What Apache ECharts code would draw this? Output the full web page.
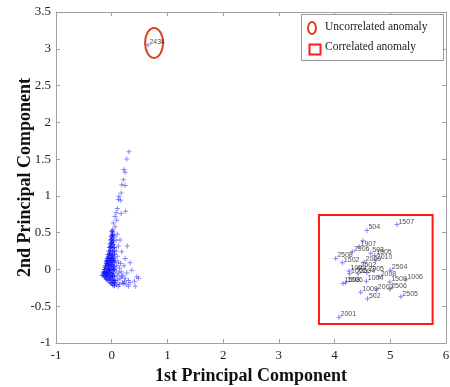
<!DOCTYPE html>
<html>
<head>
<meta charset="utf-8">
<script src="https://cdn.jsdelivr.net/npm/echarts@6/dist/echarts.min.js"></script>
<style>
  html, body { margin: 0; padding: 0; background: #fff; }
  #chart { width: 450px; height: 387px; }
</style>
</head>
<body>
<div id="chart"></div>
<script>
// Axis ranges and tick labels
const xTicks = [-1, 0, 1, 2, 3, 4, 5, 6];
const yTicks = [-1, -0.5, 0, 0.5, 1, 1.5, 2, 2.5, 3, 3.5];

// Bulk of the observations: dense core near the origin
const corePoints = [
  [0.00, 0.52], [0.01, 0.48], [0.02, 0.51],
  [-0.01, 0.45], [0.01, 0.43], [0.02, 0.46],
  [-0.02, 0.40], [0.00, 0.41], [0.03, 0.39], [0.01, 0.37],
  [-0.03, 0.35], [0.00, 0.36], [0.03, 0.34], [-0.02, 0.32],
  [-0.04, 0.30], [-0.01, 0.31], [0.02, 0.29], [0.05, 0.30],
  [-0.05, 0.25], [-0.02, 0.26], [0.01, 0.24], [0.04, 0.25], [-0.03, 0.22],
  [-0.07, 0.20], [-0.04, 0.21], [-0.01, 0.19], [0.02, 0.20], [0.05, 0.21],
  [-0.06, 0.17], [0.00, 0.17],
  [-0.08, 0.15], [-0.05, 0.16], [-0.02, 0.14], [0.01, 0.15], [0.04, 0.16],
  [-0.09, 0.12], [-0.03, 0.12], [0.03, 0.13],
  [-0.10, 0.10], [-0.07, 0.11], [-0.04, 0.09], [-0.01, 0.10], [0.02, 0.11], [0.05, 0.09],
  [-0.09, 0.08], [-0.06, 0.07], [0.00, 0.07],
  [-0.11, 0.05], [-0.08, 0.06], [-0.05, 0.04], [-0.02, 0.05], [0.01, 0.06], [0.04, 0.04],
  [-0.12, 0.03], [-0.06, 0.02], [0.03, 0.02],
  [-0.13, 0.00], [-0.10, 0.01], [-0.07, -0.01], [-0.04, 0.00], [-0.01, 0.01], [0.02, -0.01], [0.05, 0.00],
  [-0.14, -0.03], [-0.09, -0.03], [-0.03, -0.02],
  [-0.15, -0.05], [-0.12, -0.04], [-0.09, -0.06], [-0.06, -0.05], [-0.03, -0.04], [0.00, -0.06], [0.03, -0.05],
  [-0.17, -0.08], [-0.14, -0.08], [-0.11, -0.07], [-0.05, -0.08], [0.01, -0.08],
  [-0.13, -0.10], [-0.10, -0.11], [-0.07, -0.09], [-0.04, -0.10], [-0.01, -0.11], [0.02, -0.09], [0.05, -0.10],
  [-0.10, -0.13], [-0.08, -0.14], [-0.05, -0.15], [-0.02, -0.13], [0.01, -0.14], [0.04, -0.15],
  [-0.03, -0.18], [0.00, -0.19], [0.03, -0.17], [0.06, -0.18],
  [0.02, -0.21], [0.05, -0.22]
];

// Scattered observations: upward tail and right-hand spread
const tailPoints = [
  [0.31, 1.60], [0.27, 1.50], [0.22, 1.36], [0.24, 1.32], [0.21, 1.22],
  [0.18, 1.15], [0.24, 1.14], [0.17, 1.04], [0.13, 0.99], [0.12, 0.95],
  [0.16, 0.94], [0.10, 0.83], [0.25, 0.79], [0.17, 0.76], [0.08, 0.77],
  [0.06, 0.72], [0.09, 0.67], [0.03, 0.63], [0.06, 0.58], [0.02, 0.54],
  [0.28, 0.32], [0.15, 0.40], [0.18, 0.24], [0.24, 0.15], [0.33, 0.09],
  [0.36, -0.01], [0.45, -0.10], [0.48, -0.12], [0.41, -0.16], [0.42, -0.23],
  [0.30, -0.23], [0.21, -0.19], [0.12, -0.23],
  [0.08, 0.25], [0.10, 0.18], [0.12, 0.10], [0.09, 0.05], [0.14, 0.02],
  [0.17, -0.03], [0.20, -0.08], [0.24, -0.12], [0.27, -0.05], [0.22, 0.05],
  [0.30, -0.15], [0.15, -0.12], [0.10, -0.08], [0.07, -0.15], [0.19, -0.18],
  [0.26, -0.20], [0.33, -0.18], [0.12, 0.32], [0.08, 0.40], [0.10, 0.48], [0.05, 0.45],
  [0.08, -0.02], [0.11, -0.14], [0.13, -0.05], [0.16, 0.08], [0.18, -0.10],
  [0.07, 0.12], [0.09, -0.20], [0.23, -0.16], [0.14, -0.20]
];

// Uncorrelated anomaly
const uncorrelated = [[0.65, 3.05, '2434']];
const uncorrelatedRing = [[0.76, 3.08]];

// Correlated anomalies (labelled by record id)
const correlatedIds = ['1507', '504', '', '2906', '1907', '503', '1505', '2009', '2010', '2508',
  '1502', '2502', '2504', '1003', '1002', '2004', '2905', '2008', '1006', '1004',
  '1509', '1508', '1506', '2002', '2506', '1009', '502', '2505', '2001'];
const correlatedX = [5.12, 4.58, 4.51, 4.32, 4.44, 4.65, 4.72, 4.53, 4.73, 4.02,
  4.14, 4.44, 5.00, 4.26, 4.27, 4.42, 4.58, 4.80, 5.28, 4.57,
  4.99, 4.15, 4.20, 4.75, 4.99, 4.47, 4.59, 5.19, 4.08];
const correlatedY = [0.61, 0.53, 0.39, 0.24, 0.31, 0.22, 0.19, 0.10, 0.13, 0.15,
  0.09, 0.02, -0.01, -0.02, -0.06, -0.06, -0.04, -0.10, -0.14, -0.16,
  -0.17, -0.19, -0.18, -0.28, -0.27, -0.31, -0.40, -0.37, -0.65];
const correlatedBox = { x: [3.72, 5.76], y: [-0.74, 0.74] };

const plus = 'path://M2,0H3V2H5V3H3V5H2V3H0V2H2Z';
const serif = '"Liberation Serif", "Times New Roman", serif';
const axisGray = '#a0a0a0';

const correlated = correlatedIds.map((id, i) => [correlatedX[i], correlatedY[i], id]);

const pointLabel = {
  show: true,
  position: 'right',
  distance: 0,
  offset: [-1, -3],
  fontSize: 7,
  fontFamily: '"Liberation Sans", Arial, sans-serif',
  color: '#222',
  formatter: p => p.value[2]
};

const baseX = {
  type: 'value', min: -1, max: 6, interval: 1,
  axisLine: { show: true, onZero: false, lineStyle: { color: axisGray, width: 1 } },
  axisTick: { show: true, inside: true, length: 4, lineStyle: { color: axisGray } },
  splitLine: { show: false }
};
const baseY = {
  type: 'value', min: -1, max: 3.5, interval: 0.5,
  axisLine: { show: true, onZero: false, lineStyle: { color: axisGray, width: 1 } },
  axisTick: { show: true, inside: true, length: 4, lineStyle: { color: axisGray } },
  splitLine: { show: false }
};

const option = {
  animation: false,
  backgroundColor: '#fff',
  grid: { left: 56, right: 4, top: 12, bottom: 44, containLabel: false, outerBoundsMode: 'none' },
  xAxis: [
    Object.assign({}, baseX, {
      position: 'bottom',
      name: '1st Principal Component',
      nameLocation: 'middle',
      nameGap: 24,
      nameMoveOverlap: false,
      nameTextStyle: { fontFamily: serif, fontWeight: 'bold', fontSize: 18, color: '#111' },
      axisLabel: { fontFamily: serif, fontSize: 13, color: '#222', margin: 6,
        formatter: v => xTicks.includes(v) ? String(v) : '' }
    }),
    Object.assign({}, baseX, { position: 'top', axisLabel: { show: false } })
  ],
  yAxis: [
    Object.assign({}, baseY, {
      position: 'left',
      name: '2nd Principal Component',
      nameLocation: 'middle',
      nameGap: 22,
      nameMoveOverlap: false,
      nameTextStyle: { fontFamily: serif, fontWeight: 'bold', fontSize: 18, color: '#111' },
      axisLabel: { fontFamily: serif, fontSize: 13, color: '#222', margin: 5,
        formatter: v => yTicks.includes(v) ? String(v) : '' }
    }),
    Object.assign({}, baseY, { position: 'right', axisLabel: { show: false } })
  ],
  series: [
    {
      type: 'scatter', data: corePoints, symbol: plus, symbolSize: 5,
      itemStyle: { color: 'rgba(0,0,255,0.85)' }, silent: true
    },
    {
      type: 'scatter', data: tailPoints, symbol: plus, symbolSize: 5,
      itemStyle: { color: 'rgba(0,0,255,0.6)' }, silent: true
    },
    {
      type: 'scatter', data: uncorrelated, symbol: plus, symbolSize: 5,
      itemStyle: { color: 'rgba(0,0,255,0.6)' }, label: pointLabel, silent: true
    },
    {
      type: 'scatter', data: correlated, symbol: plus, symbolSize: 5,
      itemStyle: { color: 'rgba(0,0,255,0.6)' }, label: pointLabel, silent: true,
      markArea: {
        silent: true,
        itemStyle: { color: 'rgba(0,0,0,0)', borderColor: '#ff1a1a', borderWidth: 2 },
        data: [[
          { coord: [correlatedBox.x[0], correlatedBox.y[1]] },
          { coord: [correlatedBox.x[1], correlatedBox.y[0]] }
        ]]
      }
    },
    {
      type: 'custom',
      data: uncorrelatedRing,
      silent: true,
      renderItem: (params, api) => {
        const c = api.coord([api.value(0), api.value(1)]);
        return {
          type: 'ellipse',
          shape: { cx: c[0], cy: c[1], rx: 9, ry: 15 },
          style: { fill: 'none', stroke: '#e0401c', lineWidth: 2 }
        };
      }
    }
  ],
  graphic: [
    {
      type: 'rect', left: 301, top: 14,
      shape: { width: 142, height: 46 },
      style: { fill: '#fff', stroke: '#999', lineWidth: 1 }, z: 10
    },
    {
      type: 'ellipse',
      shape: { cx: 312, cy: 28, rx: 4, ry: 6 },
      style: { fill: 'none', stroke: '#e0401c', lineWidth: 2 }, z: 11
    },
    {
      type: 'text', left: 325, top: 21,
      style: { text: 'Uncorrelated anomaly', font: '11.5px ' + serif, fill: '#222' }, z: 11
    },
    {
      type: 'rect', left: 307, top: 42,
      shape: { width: 11, height: 10 },
      style: { fill: 'none', stroke: '#ff1a1a', lineWidth: 2 }, z: 11
    },
    {
      type: 'text', left: 325, top: 41,
      style: { text: 'Correlated anomaly', font: '11.5px ' + serif, fill: '#222' }, z: 11
    }
  ]
};

const chart = echarts.init(document.getElementById('chart'), null, { renderer: 'canvas' });
chart.setOption(option);
</script>
</body>
</html>
